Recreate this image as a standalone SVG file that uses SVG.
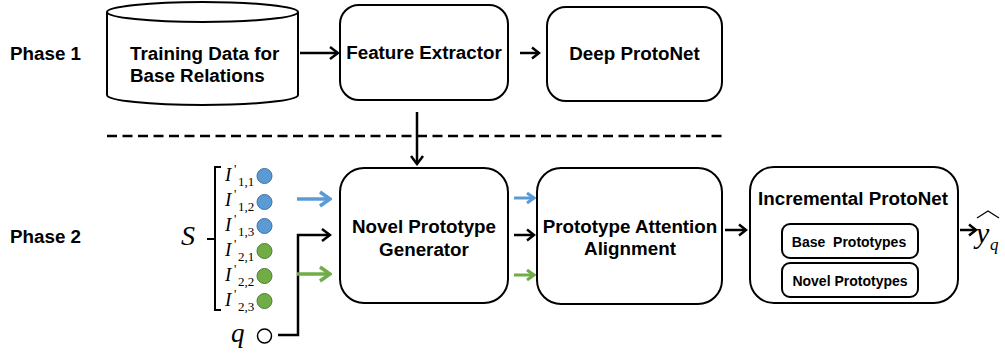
<svg xmlns="http://www.w3.org/2000/svg" width="1005" height="358" viewBox="0 0 1005 358">
<style>
.box{fill:#fff;stroke:#000;stroke-width:2}
.t{font-family:"Liberation Sans",Arial,sans-serif;font-weight:bold;font-size:18.8px;fill:#000}
.ts{font-family:"Liberation Sans",Arial,sans-serif;font-weight:bold;font-size:14px;fill:#000}
.m{font-family:"Liberation Serif","Times New Roman",serif;font-style:italic;fill:#000}
.sub{font-family:"Liberation Serif","Times New Roman",serif;font-size:13px;fill:#000}
.pr{font-family:"Liberation Serif","Times New Roman",serif;font-size:13px;fill:#000}
.blk{fill:none;stroke:#000;stroke-width:2.5}
.blu{fill:none;stroke:#5b9bd5;stroke-width:3.5}
.grn{fill:none;stroke:#70ad47;stroke-width:3.5}
.cb{fill:#5b9bd5;stroke:#41719c;stroke-width:1}
.cg{fill:#70ad47;stroke:#507e32;stroke-width:1}
</style>
<defs>
<marker id="ak" markerUnits="userSpaceOnUse" markerWidth="14" markerHeight="16" refX="12" refY="8" orient="auto"><path d="M4,2 L12,8 L4,14" fill="none" stroke="#000" stroke-width="2.5"/></marker>
<marker id="akS" markerUnits="userSpaceOnUse" markerWidth="12" markerHeight="14" refX="10" refY="7" orient="auto"><path d="M3,1.5 L10,7 L3,12.5" fill="none" stroke="#000" stroke-width="2.5"/></marker>
<marker id="ab" markerUnits="userSpaceOnUse" markerWidth="16" markerHeight="18" refX="14" refY="9" orient="auto"><path d="M4,2 L14,9 L4,16" fill="none" stroke="#5b9bd5" stroke-width="3.5"/></marker>
<marker id="abS" markerUnits="userSpaceOnUse" markerWidth="12" markerHeight="14" refX="10" refY="7" orient="auto"><path d="M3,2 L10,7 L3,12" fill="none" stroke="#5b9bd5" stroke-width="3"/></marker>
<marker id="ag" markerUnits="userSpaceOnUse" markerWidth="16" markerHeight="18" refX="14" refY="9" orient="auto"><path d="M4,2 L14,9 L4,16" fill="none" stroke="#70ad47" stroke-width="3.5"/></marker>
<marker id="agS" markerUnits="userSpaceOnUse" markerWidth="12" markerHeight="14" refX="10" refY="7" orient="auto"><path d="M3,2 L10,7 L3,12" fill="none" stroke="#70ad47" stroke-width="3"/></marker>
</defs>
<rect width="1005" height="358" fill="#fff"/>

<g id="labels">
<text class="t" x="10" y="60">Phase 1</text>
<text class="t" x="10" y="243">Phase 2</text>
</g>

<line x1="107" y1="136" x2="722" y2="136" stroke="#000" stroke-width="2.5" stroke-dasharray="10 5.5"/>

<g id="training-data">
<path d="M107,12 V95 A95.5,10 0 0 0 298,95 V12" class="box"/>
<ellipse cx="202.5" cy="12" rx="95.5" ry="10" class="box"/>
<text class="t" x="130" y="60">Training Data for</text>
<text class="t" x="130" y="82">Base Relations</text>
</g>

<g id="feature-extractor">
<rect x="340" y="5" width="168" height="95" rx="19" class="box"/>
<text class="t" x="424" y="59" text-anchor="middle">Feature Extractor</text>
</g>

<g id="deep-protonet">
<rect x="547" y="7" width="175" height="94" rx="19" class="box"/>
<text class="t" x="634.5" y="60" text-anchor="middle">Deep ProtoNet</text>
</g>

<g id="novel-prototype-generator">
<rect x="340" y="168" width="168" height="135" rx="24" class="box"/>
<text class="t" x="424" y="233" text-anchor="middle">Novel Prototype</text>
<text class="t" x="424" y="256" text-anchor="middle">Generator</text>
</g>

<g id="prototype-attention-alignment">
<rect x="537" y="168" width="185" height="136" rx="24" class="box"/>
<text class="t" x="630" y="233" text-anchor="middle">Prototype Attention</text>
<text class="t" x="630" y="255" text-anchor="middle">Alignment</text>
</g>

<g id="incremental-protonet">
<rect x="750" y="167" width="208" height="136" rx="24" class="box"/>
<text class="t" x="853" y="205" text-anchor="middle">Incremental ProtoNet</text>
<rect x="782" y="224" width="136" height="34" rx="8" class="box"/>
<text class="ts" x="849" y="247" text-anchor="middle">Base&#160; Prototypes</text>
<rect x="782" y="263" width="136" height="34" rx="8" class="box"/>
<text class="ts" x="850" y="286" text-anchor="middle">Novel Prototypes</text>
</g>

<g id="support-set">
<text class="m" x="181" y="245" font-size="28">S</text>
<path d="M207,239 H215 M221,167 H215 V310 H221" fill="none" stroke="#000" stroke-width="2"/>
<g id="s11"><text class="m" x="225" y="181" font-size="19">I</text><text class="pr" x="234" y="173">'</text><text class="sub" x="238" y="186">1,1</text><circle cx="264.5" cy="176" r="7.5" class="cb"/></g>
<g id="s12"><text class="m" x="225" y="206" font-size="19">I</text><text class="pr" x="234" y="198">'</text><text class="sub" x="238" y="211">1,2</text><circle cx="264.5" cy="202" r="7.5" class="cb"/></g>
<g id="s13"><text class="m" x="225" y="231" font-size="19">I</text><text class="pr" x="234" y="223">'</text><text class="sub" x="238" y="236">1,3</text><circle cx="264.5" cy="226" r="7.5" class="cb"/></g>
<g id="s21"><text class="m" x="225" y="256" font-size="19">I</text><text class="pr" x="234" y="248">'</text><text class="sub" x="238" y="261">2,1</text><circle cx="264.5" cy="251" r="7.5" class="cg"/></g>
<g id="s22"><text class="m" x="225" y="281" font-size="19">I</text><text class="pr" x="234" y="273">'</text><text class="sub" x="238" y="286">2,2</text><circle cx="264.5" cy="276" r="7.5" class="cg"/></g>
<g id="s23"><text class="m" x="225" y="306" font-size="19">I</text><text class="pr" x="234" y="298">'</text><text class="sub" x="238" y="311">2,3</text><circle cx="264.5" cy="301" r="7.5" class="cg"/></g>
</g>

<g id="query">
<text class="m" x="231" y="342" font-size="27">q</text>
<circle cx="264.5" cy="336" r="7" fill="#fff" stroke="#000" stroke-width="1.5"/>
</g>

<g id="output">
<text class="m" x="976" y="243" font-size="30">y</text>
<text class="m" x="990" y="250" font-size="17">q</text>
<path d="M977,218 L988,211 L999,218" fill="none" stroke="#000" stroke-width="1.2"/>
</g>

<g id="connectors">
<line x1="300" y1="53" x2="338" y2="53" class="blk" marker-end="url(#ak)"/>
<line x1="520" y1="53" x2="539" y2="53" class="blk" marker-end="url(#akS)"/>
<line x1="417" y1="112" x2="417" y2="164" class="blk" marker-end="url(#ak)"/>
<line x1="297" y1="199" x2="330" y2="199" class="blu" marker-end="url(#ab)"/>
<path d="M278,335 H298 V235 H330" class="blk" marker-end="url(#ak)"/>
<line x1="297" y1="274" x2="330" y2="274" class="grn" marker-end="url(#ag)"/>
<line x1="514" y1="198" x2="534" y2="198" stroke="#5b9bd5" stroke-width="3" marker-end="url(#abS)"/>
<line x1="514" y1="235" x2="534" y2="235" class="blk" marker-end="url(#akS)"/>
<line x1="514" y1="275" x2="534" y2="275" stroke="#70ad47" stroke-width="3" marker-end="url(#agS)"/>
<line x1="725" y1="230" x2="746" y2="230" class="blk" marker-end="url(#akS)"/>
<line x1="960" y1="230" x2="976" y2="230" class="blk" marker-end="url(#akS)"/>
</g>
</svg>
